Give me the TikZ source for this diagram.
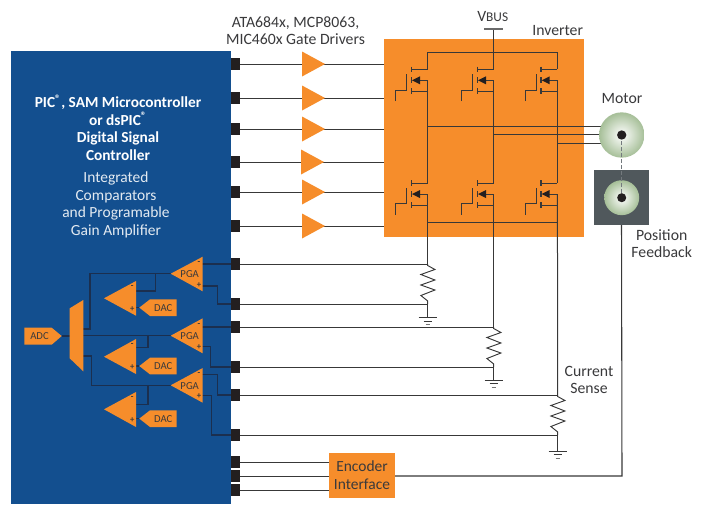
\documentclass[tikz,border=0pt]{standalone}
\usepackage{fontspec}
\setmainfont{Carlito}
\definecolor{chipblue}{HTML}{134F8F}
\definecolor{amber}{HTML}{F68D2B}
\definecolor{wire}{HTML}{383838}
\definecolor{navywire}{HTML}{1B2F4F}
\definecolor{pinblack}{HTML}{231F20}
\definecolor{txt}{HTML}{3A3A3C}
\definecolor{rotor}{HTML}{A6BF98}
\definecolor{slate}{HTML}{50585C}
\tikzset{
  x=0.75pt,y=-0.75pt,
  wireline/.style={draw=wire,line width=0.75pt},
  innerwire/.style={draw=navywire,line width=0.8pt},
  lab/.style={text=txt,font=\fontsize{11.8}{12.6}\selectfont,align=center,inner sep=0pt},
  smalllab/.style={text=txt,font=\fontsize{8}{9}\selectfont,inner sep=0pt},
  signlab/.style={text=txt,font=\fontsize{6.5}{7}\selectfont\bfseries,inner sep=0pt},
  pinbox/.style={fill=pinblack,minimum width=6.75pt,minimum height=8.6pt,inner sep=0pt,outer sep=0pt,anchor=west},
  chiptitle/.style={text=white,font=\fontsize{11.5}{13.1}\selectfont\bfseries,align=center,inner sep=0pt},
  chipsub/.style={text=white!88!chipblue,font=\fontsize{11.6}{13.1}\selectfont,align=center,inner sep=0pt},
  fetline/.style={draw=wire,line width=0.7pt},
}
% driver triangle pointing right: name, back x, centre y
\newcommand{\drvtri}[3]{%
  \fill[amber] (#2,#3-12.5) -- (#2+23,#3) -- (#2,#3+12.5) -- cycle;
  \coordinate (#1) at (#2+11,#3);}
% left-pointing amplifier: name, apex x, centre y, top y of back, bottom y of back, label
\newcommand{\amptri}[6]{%
  \fill[amber] (#2,#3) -- (#2+32,#4) -- (#2+32,#5) -- cycle;
  \coordinate (#1-out) at (#2,#3);
  \node[signlab] (#1-minus) at (#2+28.3,#4+6.5) {-};
  \node[signlab] (#1-plus) at (#2+28.3,#5-6.5) {+};
  \node[smalllab] (#1-label) at (#2+19,#3+.7) {#6};}
% DAC pentagon: name, top y
\newcommand{\dacbox}[2]{%
  \fill[amber] (139.3,#2+8.3) -- (150,#2) -- (176.7,#2) -- (176.7,#2+16.7) -- (150,#2+16.7) -- cycle;
  \coordinate (#1-tip) at (139.3,#2+8.3);
  \node[smalllab] (#1-label) at (163.3,#2+8.3) {DAC};}
% MOSFET: name, dx from left column, dy from top row
\newcommand{\mosfet}[3]{%
  \begin{scope}[shift={(#2,#3)}]
    \coordinate (#1-d) at (427.7,69.3);
    \coordinate (#1-s) at (427.7,91.3);
    \coordinate (#1-a) at (427.7,80.3);
    \draw[fetline] (395.7,101) -- (395.7,90) -- (406.7,90) -- (406.7,74);
    \draw[fetline,line width=0.9pt] (411.3,66.7) -- (411.3,72) (411.3,77.3) -- (411.3,83.3) (411.3,88.3) -- (411.3,94.3);
    \draw[fetline] (411.3,69.3) -- (#1-d);
    \draw[fetline] (411.3,91.3) -- (#1-s);
    \draw[fetline] (418,80.3) -- (#1-a);
    \fill[pinblack] (412,80.3) -- (420,76.3) -- (420,84.3) -- cycle;
  \end{scope}}
% resistor with ground: name, x, top y, bottom y, ground y
\newcommand{\shunt}[5]{%
  \coordinate (#1-top) at (#2,#3);
  \coordinate (#1-bot) at (#2,#4);
  \coordinate (#1-gnd) at (#2,#5);
  \draw[wire,line width=0.7pt,fill=none] (#1-top) -- ++(0,1.5) -- (#2+7.2,#3+5.5) -- (#2-6.8,#3+10.5) -- (#2+7.2,#3+16) -- (#2-6.8,#3+21) -- (#2+7.2,#3+26) -- (#2-6.8,#3+31.5) -- (#2,#3+37) -- (#1-bot);
  \draw[wire,line width=0.9pt] (#1-bot) -- (#1-gnd);
  \draw[wire,line width=0.9pt] (#2-9,#5) -- (#2+9,#5);
  \draw[wire,line width=0.7pt] (#2-4,#5+3.5) -- (#2+4,#5+3.5);
  \draw[wire!70,line width=0.7pt] (#2-2,#5+7) -- (#2+2,#5+7);}
\begin{document}
\begin{tikzpicture}
\useasboundingbox (0,0) rectangle (705,504);
\fill[white] (0,0) rectangle (705,504);
% main blocks
\path[fill=chipblue] (11,51) rectangle (231,504);
\path[fill=amber] (384,39) rectangle (584,237);
\coordinate (invtop) at (493.7,29);
\node[chiptitle] (title) at (118,127.5) {PIC\textsuperscript{®}, SAM Microcontroller\\or dsPIC\textsuperscript{®}\\Digital Signal\\Controller};
\node[chipsub] (sub) at (116,205) {Integrated\\Comparators\\and Programable\\Gain Amplifier};
% pins
\foreach \n/\y in {1/64,2/98,3/129,4/162,5/192,6/226,7/264,8/304,9/327,10/367,11/395,12/435,13/462,14/476,15/490}{
  \node[pinbox] (p\n) at (231,\y) {};
}
% inverter entry points
\foreach \n/\y in {1/64,2/98,3/129,4/162,5/192,6/226}{
  \coordinate (g\n) at (384,\y);
  \draw[wireline] (p\n.east) -- (g\n);
}
\drvtri{d1}{302}{64}
\drvtri{d2}{302}{98}
\drvtri{d3}{302}{129}
\drvtri{d4}{301}{162}
\drvtri{d5}{302}{192}
\drvtri{d6}{302}{226}
% MOSFETs
\mosfet{q1}{0}{0}
\mosfet{q2}{66}{0}
\mosfet{q3}{129.7}{0}
\mosfet{q4}{0}{113.7}
\mosfet{q5}{66}{113.7}
\mosfet{q6}{129.7}{113.7}
% buses
\coordinate (hb1) at (427.7,126.3);
\coordinate (hb2) at (493.7,134.7);
\coordinate (hb3) at (557.4,143.3);
\coordinate (tbl) at (427.7,52.7);
\coordinate (tbr) at (557.4,52.7);
\coordinate (bbl) at (427.7,222.7);
\coordinate (bbr) at (557.4,222.7);
\draw[fetline,line width=0.8pt] (q1-d) -- (tbl) -- (tbr) -- (q3-d);
\draw[fetline,line width=0.8pt] (invtop) -- (q2-d);
\draw[wire!75,line width=0.8pt] (484,29) -- (502.7,29);
\draw[fetline] (q1-a) -- (q4-d);
\draw[fetline] (q2-a) -- (q5-d);
\draw[fetline] (q3-a) -- (q6-d);
\draw[fetline,line width=0.8pt] (bbl) -- (bbr);
% motor and feedback
\node[fill=slate,minimum size=41.25pt,inner sep=0pt,outer sep=0pt] (fbsq) at (621.5,197.5) {};
\foreach \c in {hb1,hb2,hb3}{\draw[wireline] (\c) -- (\c -| 605,0);}
\shade[inner color=white,outer color=rotor] (621.7,135) circle[radius=17pt];
\coordinate (mdot) at (621.7,135);
\shade[inner color=white,outer color=rotor] (621.7,197.7) circle[radius=13.1pt];
\coordinate (fdot) at (621.7,197.7);
\draw[draw=slate!80,line width=0.9pt,dash pattern=on 3pt off 1.5pt] (mdot) -- (fdot);
\fill[pinblack] (mdot) circle[radius=3.5pt];
\fill[pinblack] (fdot) circle[radius=3.4pt];
% current sense
\shunt{r1}{427.7}{264}{304}{317.7}
\shunt{r2}{493.7}{327}{367}{380.3}
\shunt{r3}{557.7}{395}{435}{451.3}
\draw[wireline] (q4-a) -- (r1-top);
\draw[wireline] (q5-a) -- (r2-top);
\draw[wireline] (q6-a) -- (r3-top);
\draw[wireline] (p7.east) -- (r1-top);
\draw[wireline] (p8.east) -- (r1-bot);
\draw[wireline] (p9.east) -- (r2-top);
\draw[wireline] (p10.east) -- (r2-bot);
\draw[wireline] (p11.east) -- (r3-top);
\draw[wireline] (p12.east) -- (r3-bot);
% encoder
\node[fill=amber,minimum width=49.5pt,minimum height=33.75pt,inner sep=0pt,outer sep=0pt,lab,font=\fontsize{11.6}{13.4}\selectfont] (enc) at (362,475.2) {Encoder\\Interface};
\draw[wireline] (p13.east) -- (p13.east -| enc.west);
\draw[wireline] (p14.east) -- (p14.east -| enc.west);
\draw[wireline] (p15.east) -- (p15.east -| enc.west);
\draw[draw=wire,line width=0.8pt] (p14.east -| enc.east) -- (622,476) -- (fbsq.south);
% analog front end wires
\coordinate (muxA) at (83.3,329);
\coordinate (muxB) at (83.3,335.7);
\coordinate (muxC) at (83.3,356);
\coordinate (muxIn) at (69.7,336);
\coordinate (adcTip) at (61.7,336);
\draw[innerwire] (adcTip) -- (muxIn);
\draw[innerwire] (muxA) -- (90,329) -- (90,273.7) -- (170.7,273.7);
\draw[innerwire] (136,291) -- (155.7,291) -- (155.7,273.7);
\draw[innerwire] (muxB) -- (170.7,335.7);
\draw[innerwire] (136,347.7) -- (148,347.7) -- (148,335.7);
\draw[innerwire] (muxC) -- (91.7,356) -- (91.7,385.3) -- (170.7,385.3);
\draw[innerwire] (136,404.3) -- (148,404.3) -- (148,385.3);
\draw[innerwire] (202.3,264) -- (p7.west);
\draw[innerwire] (202.3,286) -- (217.7,286) -- (217.7,304) -- (p8.west);
\draw[innerwire] (202.3,327) -- (p9.west);
\draw[innerwire] (202.3,346.7) -- (210.7,346.7) -- (210.7,367) -- (p10.west);
\draw[innerwire] (202.3,374.3) -- (217.7,374.3) -- (217.7,395) -- (p11.west);
\draw[innerwire] (202.3,395.7) -- (211.7,395.7) -- (211.7,435) -- (p12.west);
\draw[innerwire] (136,307.7) -- (139.3,307.7);
\draw[innerwire] (136,366) -- (139.3,366);
\draw[innerwire] (136,418.7) -- (139.3,418.7);
% analog front end shapes
\amptri{pga1}{170.7}{273.7}{256.7}{291.3}{PGA}
\amptri{pga2}{170.7}{335.7}{318.3}{353.3}{PGA}
\amptri{pga3}{170.7}{385.3}{368}{402.7}{PGA}
\amptri{cmp1}{104}{298.3}{281}{315.7}{}
\amptri{cmp2}{104}{356.7}{339}{374}{}
\amptri{cmp3}{104}{409.3}{392}{427}{}
\dacbox{dac1}{299.3}
\dacbox{dac2}{357.7}
\dacbox{dac3}{410.3}
\fill[amber] (24.3,327.7) -- (51.7,327.7) -- (61.7,336) -- (51.7,344.7) -- (24.3,344.7) -- cycle;
\node[smalllab] (adc) at (39.5,336) {ADC};
\fill[amber] (69.7,308.3) -- (83.3,300) -- (83.3,371.3) -- (69.7,358.3) -- cycle;
% labels
\node[lab] (drvlab) at (295.5,31) {ATA684x, MCP8063,\\MIC460x Gate Drivers};
\node[lab] (vbus) at (492.7,16) {V{\fontsize{10}{10}\selectfont BUS}};
\node[lab] (invlab) at (557.7,30.5) {Inverter};
\node[lab] (motor) at (622,99) {Motor};
\node[lab] (poslab) at (661.7,244) {Position\\Feedback};
\node[lab] (curlab) at (589,380.3) {Current\\Sense};
\end{tikzpicture}
\end{document}
